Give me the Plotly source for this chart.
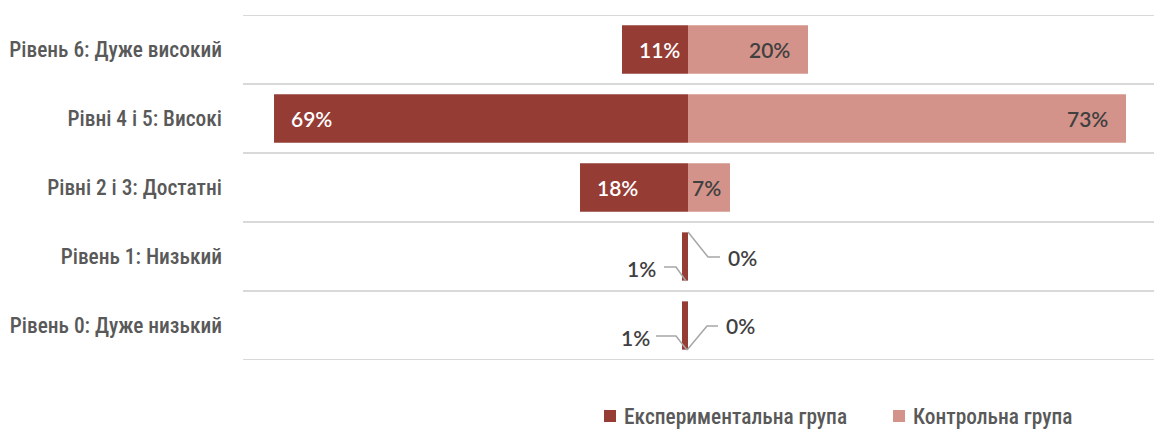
import plotly.graph_objects as go

# ---- data -------------------------------------------------------------
categories = [
    "Рівень 6: Дуже високий",
    "Рівні 4 і 5: Високі",
    "Рівні 2 і 3: Достатні",
    "Рівень 1: Низький",
    "Рівень 0: Дуже низький",
]
experimental = [11, 69, 18, 1, 1]   # % of experimental group
control = [20, 73, 7, 0, 0]         # % of control group
series_names = ["Експериментальна група", "Контрольна група"]

# ---- style / geometry -----------------------------------------------
DARK = "#953C35"
LIGHT = "#D4938A"
GRID = "#D9D9D9"
TEXT = "#595959"
LABEL_DARK = "#404040"
FONT = "'Roboto Condensed', 'Liberation Sans Narrow', 'DejaVu Sans Condensed', sans-serif"
NUM_FONT = "Lato, 'Open Sans', sans-serif"

W, H = 1154, 430
M_L, M_R, M_T, M_B = 243, 0, 15, 70
X_RANGE = [-74.17, 77.67]
ROW_PX = (H - M_T - M_B) / len(categories)
PX_PER_X = (W - M_L - M_R) / (X_RANGE[1] - X_RANGE[0])
PLOT_H = H - M_T - M_B
PLOT_W = W - M_L - M_R
BAR_W = 0.7

ypos = list(range(len(categories)))


def dx(px):
    return px / PX_PER_X


def dy(px):
    return px / ROW_PX


fig = go.Figure()
fig.add_trace(go.Bar(
    y=ypos, x=[-v for v in experimental], orientation="h",
    name=series_names[0], marker=dict(color=DARK, line=dict(width=0)),
    width=BAR_W, hoverinfo="skip", showlegend=False,
))
fig.add_trace(go.Bar(
    y=ypos, x=control, orientation="h",
    name=series_names[1], marker=dict(color=LIGHT, line=dict(width=0)),
    width=BAR_W, hoverinfo="skip", showlegend=False,
))

# horizontal separators between rows
for k in range(len(categories) + 1):
    fig.add_shape(type="line", xref="paper", yref="y", x0=0, x1=1,
                  y0=k - 0.5, y1=k - 0.5, line=dict(color=GRID, width=2),
                  layer="below")

annotations = []
label_font = dict(family=NUM_FONT, size=21, weight=600)

# labels inside the bars, placed at the bar's outer end
for i, v in enumerate(experimental):
    if v >= 5:
        annotations.append(dict(
            x=-v, y=i, xref="x", yref="y", text=f"{v}%", showarrow=False,
            xanchor="left", yanchor="middle", xshift=15,
            font=dict(label_font, color="white")))
for i, v in enumerate(control):
    if v >= 5:
        pad = 16 if v >= 10 else 7
        annotations.append(dict(
            x=v, y=i, xref="x", yref="y", text=f"{v}%", showarrow=False,
            xanchor="right", yanchor="middle", xshift=-pad,
            font=dict(label_font, color=LABEL_DARK)))

# callout labels with bent leader lines for the tiny bars (pixel offsets
# from the zero line and row centre)
callouts = {
    3: {
        "left": ([(-2, 24.5), (-12, 10.5), (-24, 10.5)], (-47, 11.5)),
        "right": ([(0, -24.5), (20, 0.5), (32, 0.5)], (54, 0.5)),
    },
    4: {
        "left": ([(-1, 24.5), (-12, 10.5), (-32, 10.5)], (-53, 11.5)),
        "right": ([(-1, 24.5), (19, 0.5), (30, 0.5)], (52, -0.5)),
    },
}
for i, sides in callouts.items():
    for side, (pts, (lx, ly)) in sides.items():
        val = experimental[i] if side == "left" else control[i]
        path = " ".join(
            ("M" if j == 0 else "L") + f" {dx(px):.4f},{i + dy(py):.4f}"
            for j, (px, py) in enumerate(pts))
        fig.add_shape(type="path", xref="x", yref="y", path=path,
                      line=dict(color="#A6A6A6", width=1.5))
        annotations.append(dict(
            x=dx(lx), y=i + dy(ly), xref="x", yref="y", text=f"{val}%",
            showarrow=False, xanchor="center", yanchor="middle",
            font=dict(label_font, color=LABEL_DARK)))

# legend row below the plot: colour square + series name
legend_y_px = 416
legend_items = [(604, DARK), (893, LIGHT)]
for (sx, color), name in zip(legend_items, series_names):
    x0 = (sx - M_L) / PLOT_W
    x1 = (sx + 12 - M_L) / PLOT_W
    yc = -(legend_y_px - (M_T + PLOT_H)) / PLOT_H
    half = 6 / PLOT_H
    fig.add_shape(type="rect", xref="paper", yref="paper", x0=x0, x1=x1,
                  y0=yc - half, y1=yc + half, fillcolor=color,
                  line=dict(width=0))
    annotations.append(dict(
        x=(sx + 18 - M_L) / PLOT_W, y=yc, xref="paper", yref="paper",
        text=name, showarrow=False, xanchor="left", yanchor="middle",
        font=dict(family=FONT, size=21.4, color=TEXT, weight=500)))

fig.update_layout(
    width=W, height=H,
    margin=dict(l=M_L, r=M_R, t=M_T, b=M_B, pad=0, autoexpand=False),
    paper_bgcolor="white", plot_bgcolor="white",
    barmode="relative", bargap=0.3,
    showlegend=False,
    xaxis=dict(range=X_RANGE, showgrid=False, zeroline=False,
               showticklabels=False, ticks="", fixedrange=True),
    yaxis=dict(range=[len(categories) - 0.5, -0.5], tickmode="array",
               tickvals=ypos, ticktext=categories, showgrid=False,
               zeroline=False, ticks="", ticklen=0,
               tickfont=dict(family=FONT, size=21.4, color=TEXT, weight=500),
               ticklabelstandoff=20),
    annotations=annotations,
    font=dict(family=FONT),
)

fig.write_html("out.html")
